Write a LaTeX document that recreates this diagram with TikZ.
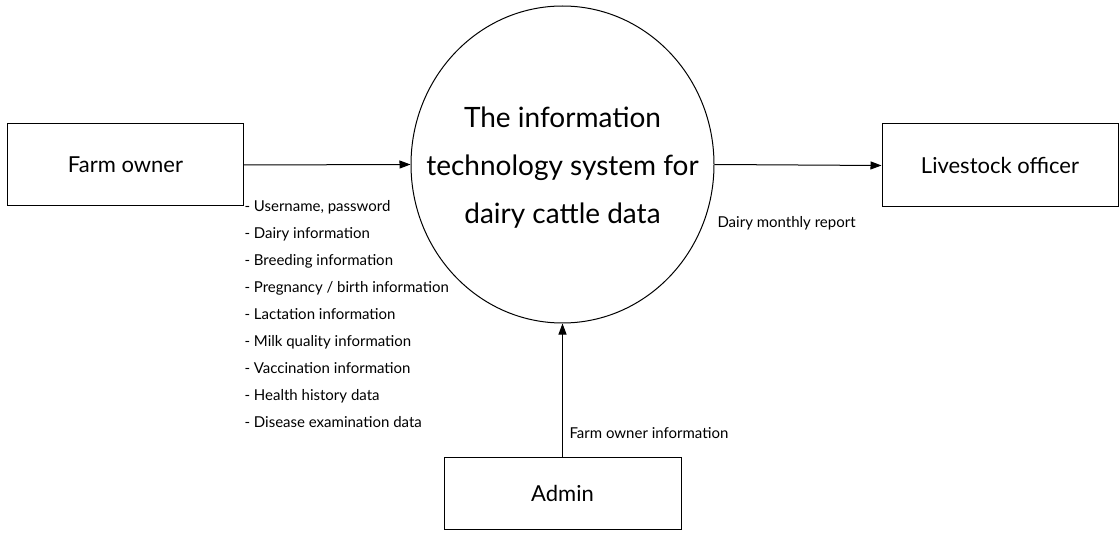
\documentclass[tikz,border=0pt]{standalone}
\usepackage{fontspec}
\setmainfont{Lato}
\usepackage{tikz}
\usetikzlibrary{shapes.geometric,arrows.meta}

\begin{document}
\begin{tikzpicture}[x=1pt,y=1pt,line width=1pt,
    entity/.style={draw,black,rectangle,inner sep=0pt,font=\fontsize{22}{26}\selectfont},
    process/.style={draw,black,ellipse,inner sep=0pt,minimum width=303pt,minimum height=317pt},
    processtext/.style={inner sep=0pt,align=center,font=\fontsize{28}{48}\selectfont},
    flow/.style={-{Triangle[length=11pt,width=8pt]}},
    flowlabel/.style={inner sep=0pt,font=\fontsize{15}{27}\selectfont}]
        \useasboundingbox (0,0) rectangle (1120,-540);
        \node [entity,minimum width=236pt,minimum height=82pt] (farm) at (125.5,-165) {Farm owner};
        \node [process] (sys) at (562.5,-164.5) {};
        \node [processtext] (systext) at (562.5,-168) {The information\\technology system for\\dairy cattle data};
        \node [entity,minimum width=236pt,minimum height=83pt] (officer) at (1000,-165.5) {Livestock officer};
        \node [entity,minimum width=237pt,minimum height=72pt] (admin) at (562.5,-493) {Admin};
        \draw [black,flow] (farm.east) -- (sys.west);
        \draw [black,flow] (sys.east) -- (officer.west);
        \draw [black,flow] (admin.north) -- (sys.south);
        \node [flowlabel,anchor=north west,align=left] (inputs) at (244,-200) {- Username, password\\- Dairy information\\- Breeding information\\- Pregnancy / birth information\\- Lactation information\\- Milk quality information\\- Vaccination information\\- Health history data\\- Disease examination data};
        \node [flowlabel,anchor=west] (report) at (717,-223) {Dairy monthly report};
        \node [flowlabel,anchor=west] (ownerinfo) at (569,-433) {Farm owner information};
\end{tikzpicture}
\end{document}
